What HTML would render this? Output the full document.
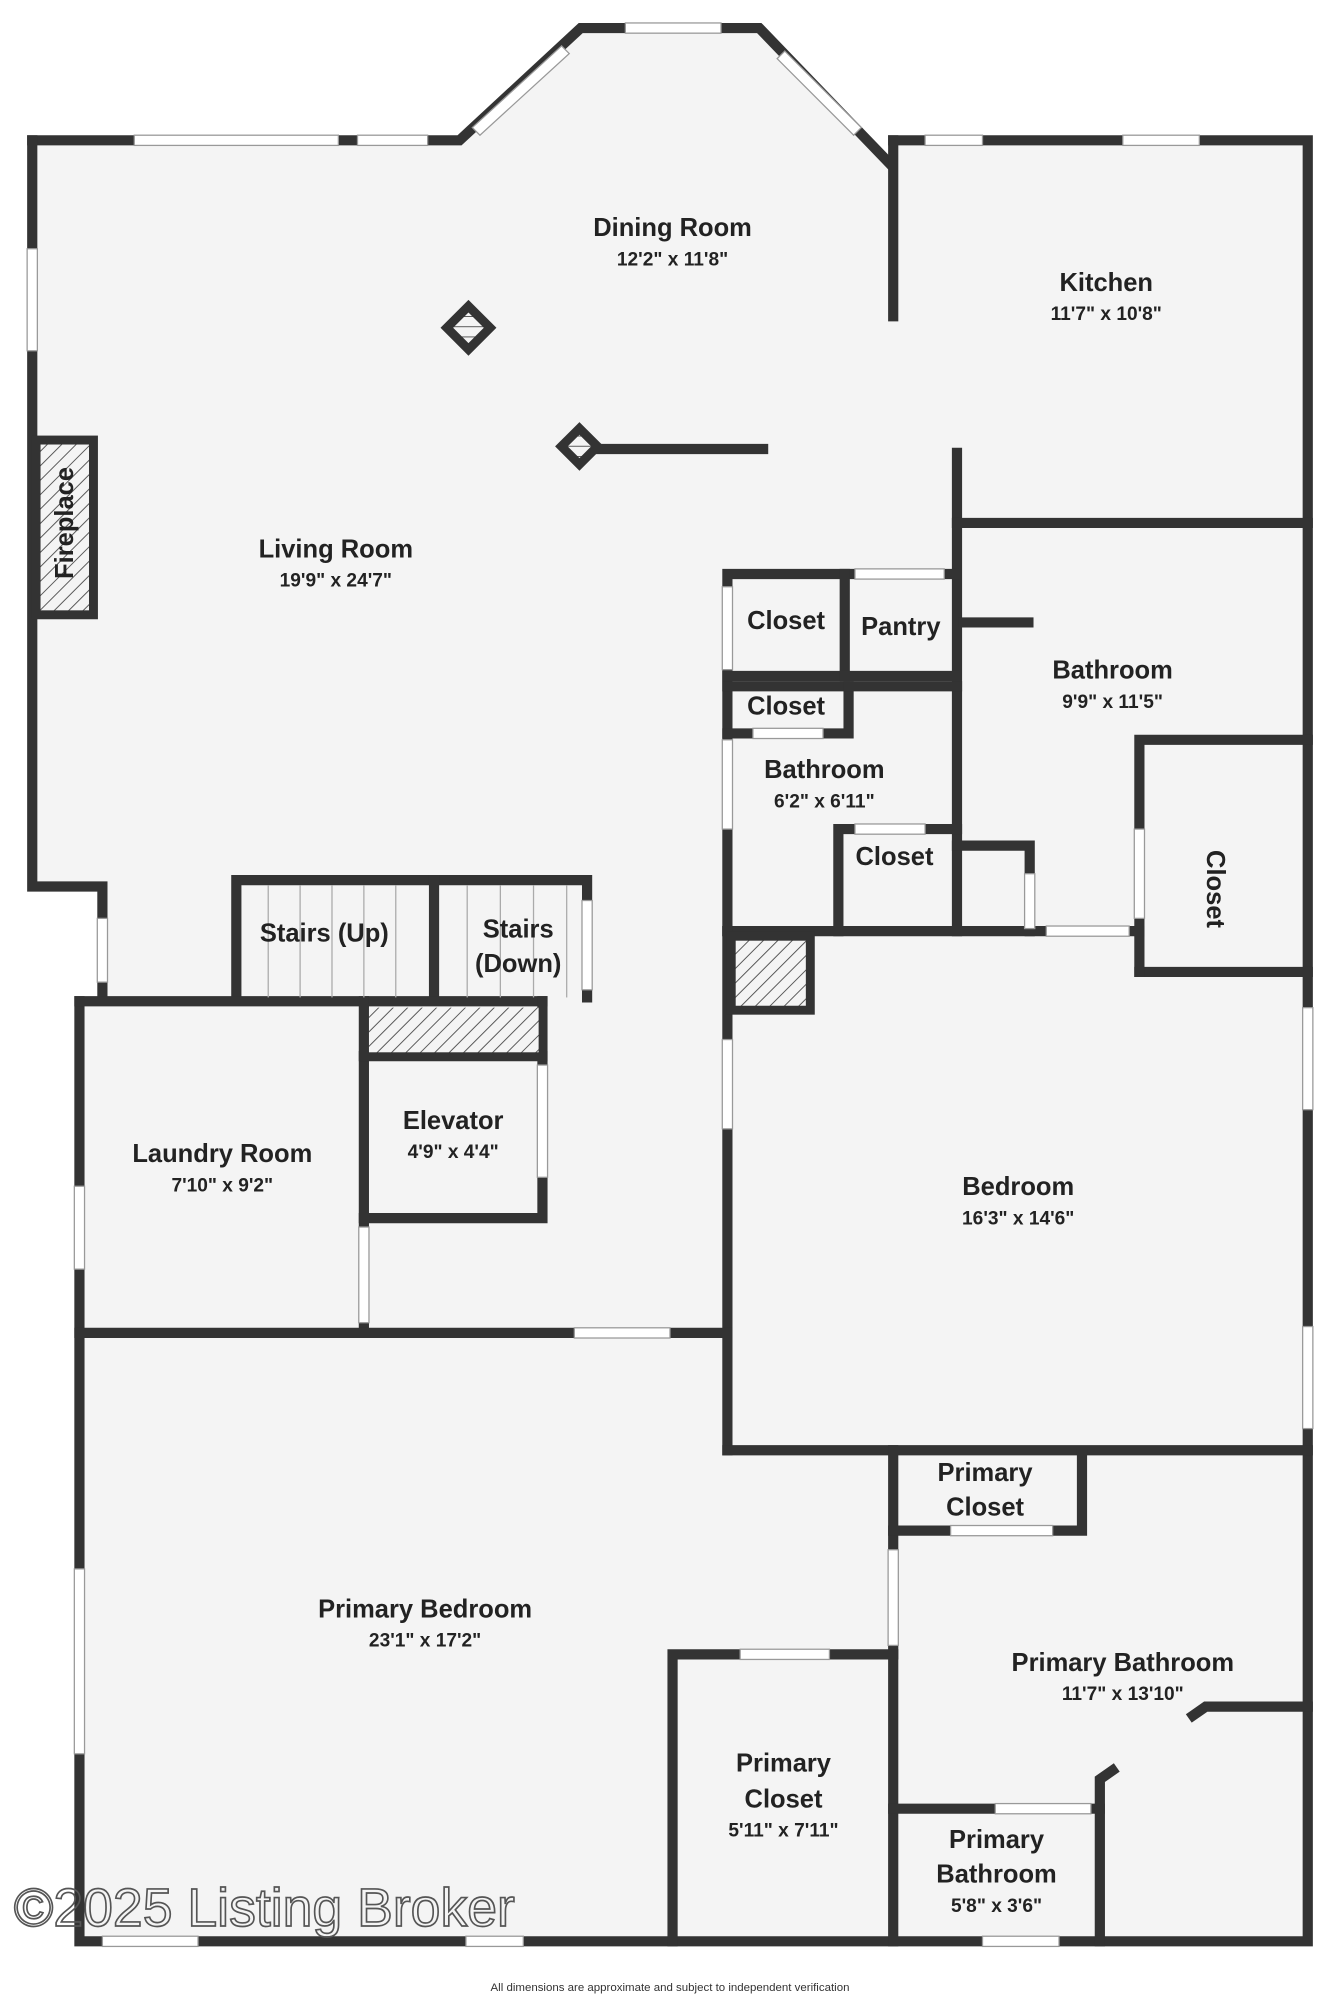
<!DOCTYPE html>
<html><head><meta charset="utf-8"><style>
html,body{margin:0;padding:0;background:#fff;}
svg{display:block}
text{font-family:"Liberation Sans",sans-serif;fill:#222;text-anchor:middle}
.n{font-weight:bold;font-size:20px}
.d{font-weight:bold;font-size:15px}
</style></head><body>
<svg width="1340" height="2000" viewBox="0 0 1050 1568" xmlns="http://www.w3.org/2000/svg">
<defs>
<pattern id="h" width="8" height="8" patternUnits="userSpaceOnUse" patternTransform="rotate(45)">
<rect width="8" height="8" fill="#f4f4f4"/><line x1="0" y1="0" x2="0" y2="8" stroke="#555" stroke-width="1.5"/></pattern>
</defs>
<!-- floor -->
<polygon points="25,110 360,110 455,22 595,22 697,128 697,110 1025,110 1025,1522 62,1522 62,785 80,785 80,695 25,695" fill="#f4f4f4"/>
<g stroke="#333" stroke-width="8" fill="none" stroke-linecap="square">
<!-- outer -->
<polyline points="25,110 360,110 455,22 595,22 697,128"/>
<polyline points="700,110 1025,110 1025,1522 62,1522 62,785"/>
<polyline points="25,110 25,695 80,695 80,780"/>
<line x1="700" y1="110" x2="700" y2="248"/>
<!-- kitchen -->
<line x1="750" y1="355" x2="750" y2="730"/>
<line x1="750" y1="410" x2="1025" y2="410"/>
<line x1="470" y1="352" x2="598" y2="352"/>
<!-- closet group -->
<polyline points="570,730 570,450 748,450"/>
<line x1="662" y1="450" x2="662" y2="530"/>
<line x1="570" y1="530" x2="662" y2="530"/>
<line x1="662" y1="530" x2="748" y2="530"/>
<polyline points="570,538 665,538 665,575 570,575"/>
<line x1="665" y1="538" x2="750" y2="538"/>
<polyline points="657,730 657,650 750,650"/>
<polyline points="750,663 807,663 807,730"/>
<line x1="570" y1="730" x2="893" y2="730"/>
<line x1="755" y1="488" x2="806" y2="488"/>
<polyline points="893,730 893,580 1025,580"/>
<line x1="893" y1="762" x2="1025" y2="762"/>
<line x1="893" y1="730" x2="893" y2="762"/>
<!-- bedroom -->
<line x1="570" y1="730" x2="570" y2="1137"/>
<line x1="570" y1="1137" x2="1025" y2="1137"/>
<!-- stairs -->
<polyline points="185,782 185,690 460,690 460,782"/>
<line x1="340" y1="690" x2="340" y2="782"/>
<!-- laundry/elevator -->
<line x1="62" y1="785" x2="425" y2="785"/>
<line x1="285" y1="785" x2="285" y2="1045"/>
<polyline points="425,785 425,955 285,955"/>
<line x1="285" y1="828" x2="425" y2="828"/>
<line x1="62" y1="1045" x2="570" y2="1045"/>
<!-- primary -->
<line x1="700" y1="1137" x2="700" y2="1522"/>
<polyline points="700,1200 848,1200 848,1140"/>
<polyline points="527,1522 527,1297 700,1297"/>
<line x1="700" y1="1418" x2="862" y2="1418"/>
<polyline points="862,1522 862,1395 872,1388"/>
<polyline points="935,1345 945,1338 1025,1338"/>
</g>
<!-- fireplace, hatches -->
<rect x="28" y="345" width="45" height="137" fill="url(#h)" stroke="#333" stroke-width="7"/>
<rect x="573" y="734" width="62" height="58" fill="url(#h)" stroke="#333" stroke-width="7"/>
<rect x="289" y="790" width="133" height="35" fill="url(#h)"/>
<!-- diamonds -->
<rect x="355" y="245" width="24" height="24" fill="url(#h)" stroke="#333" stroke-width="7" transform="rotate(45 367 257)"/>
<rect x="444" y="340" width="20" height="20" fill="url(#h)" stroke="#333" stroke-width="7" transform="rotate(45 454 350)"/>
<!-- stair lines -->
<g stroke="#aaa" stroke-width="1">
<line x1="210" y1="694" x2="210" y2="782"/><line x1="235" y1="694" x2="235" y2="782"/><line x1="260" y1="694" x2="260" y2="782"/><line x1="285" y1="694" x2="285" y2="782"/><line x1="310" y1="694" x2="310" y2="782"/>
<line x1="366" y1="694" x2="366" y2="782"/><line x1="392" y1="694" x2="392" y2="782"/><line x1="418" y1="694" x2="418" y2="782"/><line x1="444" y1="694" x2="444" y2="782"/>
</g>
<!-- windows / openings -->
<g fill="#fff" stroke="#999" stroke-width="1">
<rect x="105" y="106" width="160" height="8"/>
<rect x="280" y="106" width="55" height="8"/>
<rect x="490" y="18" width="75" height="8"/>
<rect x="725" y="106" width="45" height="8"/>
<rect x="880" y="106" width="60" height="8"/>
<rect x="21" y="195" width="8" height="80"/>
<rect x="76" y="720" width="8" height="50"/>
<rect x="58" y="930" width="8" height="65"/>
<rect x="58" y="1230" width="8" height="145"/>
<rect x="80" y="1518" width="75" height="8"/>
<rect x="365" y="1518" width="45" height="8"/>
<rect x="770" y="1518" width="60" height="8"/>
<rect x="1021" y="790" width="8" height="80"/>
<rect x="1021" y="1040" width="8" height="80"/>
<rect x="456" y="706" width="8" height="70"/>
<rect x="566" y="815" width="8" height="70"/>
<rect x="566" y="460" width="8" height="65"/>
<rect x="566" y="580" width="8" height="70"/>
<rect x="670" y="446" width="70" height="8"/>
<rect x="590" y="571" width="55" height="8"/>
<rect x="670" y="646" width="55" height="8"/>
<rect x="803" y="685" width="8" height="43"/>
<rect x="820" y="726" width="65" height="8"/>
<rect x="889" y="650" width="8" height="70"/>
<rect x="421" y="835" width="8" height="88"/>
<rect x="281" y="962" width="8" height="75"/>
<rect x="450" y="1041" width="75" height="8"/>
<rect x="745" y="1196" width="80" height="8"/>
<rect x="696" y="1215" width="8" height="75"/>
<rect x="580" y="1293" width="70" height="8"/>
<rect x="780" y="1414" width="75" height="8"/>
</g>
<g fill="#fff" stroke="#999" stroke-width="1">
<polygon points="370,100 440,36 446,42 376,106"/>
<polygon points="615,40 675,100 669,106 609,46"/>
</g>
<!-- labels -->
<text class="n" x="527" y="185">Dining Room</text><text class="d" x="527" y="208">12'2" x 11'8"</text>
<text class="n" x="867" y="228">Kitchen</text><text class="d" x="867" y="251">11'7" x 10'8"</text>
<text class="n" x="263" y="437">Living Room</text><text class="d" x="263" y="460">19'9" x 24'7"</text>
<text class="n" x="0" y="0" transform="translate(57,410) rotate(-90)">Fireplace</text>
<text class="n" x="616" y="493">Closet</text>
<text class="n" x="706" y="498">Pantry</text>
<text class="n" x="616" y="560">Closet</text>
<text class="n" x="872" y="532">Bathroom</text><text class="d" x="872" y="555">9'9" x 11'5"</text>
<text class="n" x="646" y="610">Bathroom</text><text class="d" x="646" y="633">6'2" x 6'11"</text>
<text class="n" x="701" y="678">Closet</text>
<text class="n" x="0" y="0" transform="translate(946,697) rotate(90)">Closet</text>
<text class="n" x="254" y="738">Stairs (Up)</text>
<text class="n" x="406" y="735">Stairs</text><text class="n" x="406" y="762">(Down)</text>
<text class="n" x="355" y="885">Elevator</text><text class="d" x="355" y="908">4'9" x 4'4"</text>
<text class="n" x="174" y="911">Laundry Room</text><text class="d" x="174" y="934">7'10" x 9'2"</text>
<text class="n" x="798" y="937">Bedroom</text><text class="d" x="798" y="960">16'3" x 14'6"</text>
<text class="n" x="772" y="1161">Primary</text><text class="n" x="772" y="1188">Closet</text>
<text class="n" x="333" y="1268">Primary Bedroom</text><text class="d" x="333" y="1291">23'1" x 17'2"</text>
<text class="n" x="880" y="1310">Primary Bathroom</text><text class="d" x="880" y="1333">11'7" x 13'10"</text>
<text class="n" x="614" y="1389">Primary</text><text class="n" x="614" y="1417">Closet</text><text class="d" x="614" y="1440">5'11" x 7'11"</text>
<text class="n" x="781" y="1449">Primary</text><text class="n" x="781" y="1476">Bathroom</text><text class="d" x="781" y="1499">5'8" x 3'6"</text>
<text x="207" y="1510" style="font-size:42px;fill:none;stroke:#555;stroke-width:1.3">©2025 Listing Broker</text>
<text x="525" y="1561" style="font-size:9px;fill:#333">All dimensions are approximate and subject to independent verification</text>
</svg>
</body></html>
